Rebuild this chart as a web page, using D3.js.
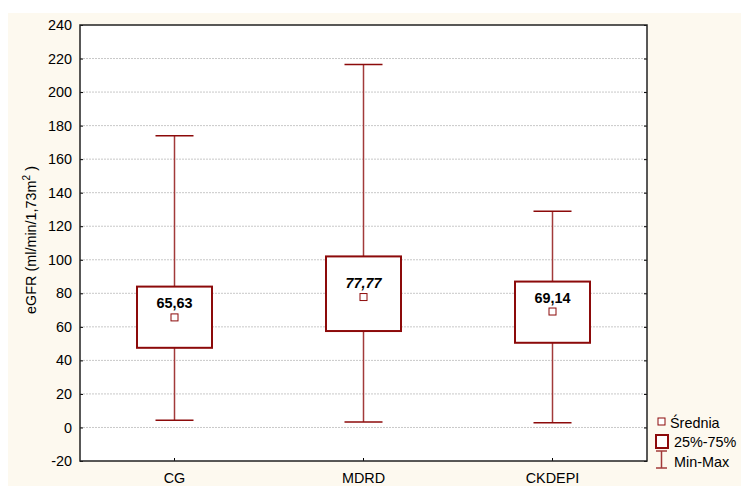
<!DOCTYPE html>
<html>
<head>
<meta charset="utf-8">
<script src="https://cdn.jsdelivr.net/npm/d3@7"></script>
<style>
	body { margin: 0; background: #fff; }
	text { font-family: "Liberation Sans", Arial, sans-serif; }
</style>
</head>
<body>
<div id="chart"></div>
<script>
var categories = ["CG", "MDRD", "CKDEPI"];
var means = [65.63, 77.77, 69.14];
var meanLabels = ["65,63", "77,77", "69,14"];
var q1 = [47.5, 57.5, 50.5];
var q3 = [84, 102, 87];
var mins = [4.3, 3.3, 2.8];
var maxs = [174, 216.5, 129];
var yTicks = [-20, 0, 20, 40, 60, 80, 100, 120, 140, 160, 180, 200, 220, 240];

var red = "#8c0a0a";
var whisk = "#a23a3a";
var fs = "14.4px";

var W = 741, H = 488;
var margin = { top: 25, right: 94, bottom: 27, left: 80 },
	width = W - margin.left - margin.right,
	height = H - margin.top - margin.bottom;

var svg = d3.select("#chart")
	.append("svg")
	.attr("width", W)
	.attr("height", H);

// cream panel
svg.append("rect")
	.attr("x", 8).attr("y", 13)
	.attr("width", W - 8).attr("height", 473)
	.attr("fill", "#fdf9ef");

var g = svg.append("g")
	.attr("transform", "translate(" + margin.left + "," + margin.top + ")");

g.append("rect")
	.attr("width", width).attr("height", height)
	.attr("fill", "#fff");

var x = d3.scaleBand()
	.domain(categories)
	.range([0, width]);

var y = d3.scaleLinear()
	.domain([-20, 240])
	.range([height, 0]);

// grid
g.selectAll(".grid")
	.data(yTicks.filter(function(d) { return d > -20 && d < 240; }))
	.enter()
	.append("line")
	.attr("x1", 0).attr("x2", width)
	.attr("y1", function(d) { return y(d); })
	.attr("y2", function(d) { return y(d); })
	.attr("stroke", "#c8c8c8")
	.attr("stroke-dasharray", "2,1");

// left axis
var yAxis = g.append("g")
	.call(d3.axisLeft(y).tickValues(yTicks).tickSize(-3).tickPadding(8)
		.tickFormat(function(d) { return String(d); }));
yAxis.select(".domain").remove();
yAxis.selectAll("text").style("font-size", fs).attr("fill", "#000");

// right ticks
var yAxisR = g.append("g")
	.attr("transform", "translate(" + width + ",0)")
	.call(d3.axisRight(y).tickValues(yTicks).tickSize(-3).tickFormat(""));
yAxisR.select(".domain").remove();

// bottom axis
var xAxis = g.append("g")
	.attr("transform", "translate(0," + height + ")")
	.call(d3.axisBottom(x).tickSize(-3).tickPadding(12));
xAxis.select(".domain").remove();
xAxis.selectAll("text").style("font-size", fs).attr("fill", "#000");

// frame
g.append("rect")
	.attr("width", width).attr("height", height)
	.attr("fill", "none")
	.attr("stroke", "#222")
	.attr("stroke-width", 1.5);

// y label
svg.append("text")
	.attr("transform", "translate(36," + (margin.top + height / 2 - 3) + ") rotate(-90)")
	.attr("text-anchor", "middle")
	.style("font-size", fs)
	.html('eGFR (ml/min/1,73m<tspan dy="-6" font-size="10px">2</tspan><tspan dy="6"> )</tspan>');

var boxW = 75, capW = 38;

var items = categories.map(function(c, i) {
	return { c: c, mean: means[i], label: meanLabels[i], q1: q1[i], q3: q3[i], min: mins[i], max: maxs[i] };
});

var box = g.selectAll(".box")
	.data(items)
	.enter()
	.append("g")
	.attr("transform", function(d) { return "translate(" + (x(d.c) + x.bandwidth() / 2) + ",0)"; });

// whiskers
box.append("line")
	.attr("y1", function(d) { return y(d.max); })
	.attr("y2", function(d) { return y(d.q3); })
	.attr("stroke", whisk).attr("stroke-width", 1.5);
box.append("line")
	.attr("y1", function(d) { return y(d.q1); })
	.attr("y2", function(d) { return y(d.min); })
	.attr("stroke", whisk).attr("stroke-width", 1.5);
box.append("line")
	.attr("x1", -capW / 2).attr("x2", capW / 2)
	.attr("y1", function(d) { return y(d.max); })
	.attr("y2", function(d) { return y(d.max); })
	.attr("stroke", red).attr("stroke-width", 1.5);
box.append("line")
	.attr("x1", -capW / 2).attr("x2", capW / 2)
	.attr("y1", function(d) { return y(d.min); })
	.attr("y2", function(d) { return y(d.min); })
	.attr("stroke", red).attr("stroke-width", 1.5);

// boxes
box.append("rect")
	.attr("x", -boxW / 2)
	.attr("width", boxW)
	.attr("y", function(d) { return y(d.q3); })
	.attr("height", function(d) { return y(d.q1) - y(d.q3); })
	.attr("fill", "#fff")
	.attr("stroke", red)
	.attr("stroke-width", 2);

// mean markers
box.append("rect")
	.attr("x", -3.5).attr("width", 7)
	.attr("y", function(d) { return y(d.mean) - 3.5; })
	.attr("height", 7)
	.attr("fill", "#fff")
	.attr("stroke", red)
	.attr("stroke-width", 1);

box.append("text")
	.attr("text-anchor", "middle")
	.attr("y", function(d) { return y(d.mean) - 9; })
	.style("font-size", fs)
	.style("font-weight", "bold")
	.style("font-style", function(d, i) { return i == 1 ? "italic" : "normal"; })
	.text(function(d) { return d.label; });

// legend
var lg = svg.append("g");
lg.append("rect")
	.attr("x", 658).attr("y", 418).attr("width", 7).attr("height", 7)
	.attr("fill", "#fff").attr("stroke", red);
lg.append("text").attr("x", 670).attr("y", 428).style("font-size", fs).text("Średnia");
lg.append("rect")
	.attr("x", 656).attr("y", 435).attr("width", 12).attr("height", 13)
	.attr("fill", "#fff").attr("stroke", red).attr("stroke-width", 2);
lg.append("text").attr("x", 674).attr("y", 447).style("font-size", fs).text("25%-75%");
lg.append("line").attr("x1", 661.5).attr("x2", 661.5).attr("y1", 451).attr("y2", 468)
	.attr("stroke", whisk).attr("stroke-width", 1.5);
lg.append("line").attr("x1", 656).attr("x2", 667).attr("y1", 451).attr("y2", 451)
	.attr("stroke", whisk).attr("stroke-width", 1.5);
lg.append("line").attr("x1", 656).attr("x2", 667).attr("y1", 468).attr("y2", 468)
	.attr("stroke", whisk).attr("stroke-width", 1.5);
lg.append("text").attr("x", 674).attr("y", 467).style("font-size", fs).text("Min-Max");
</script>
</body>
</html>
